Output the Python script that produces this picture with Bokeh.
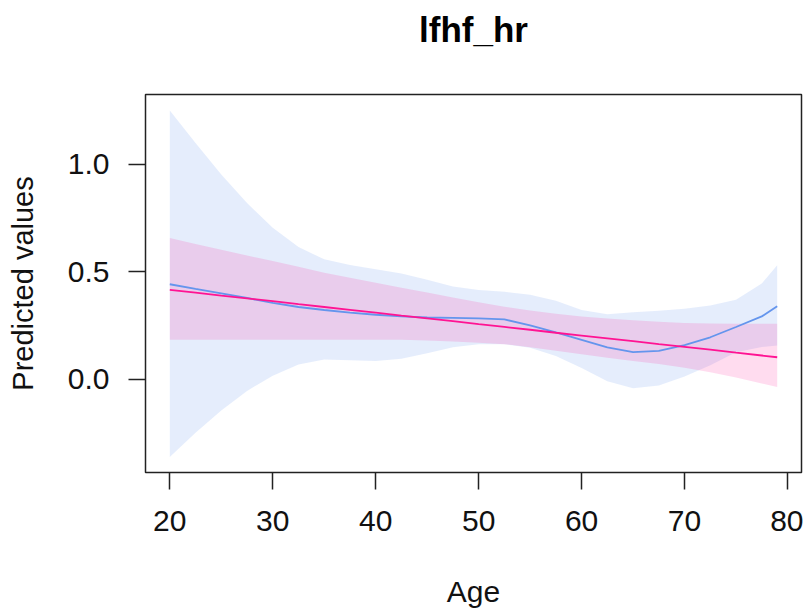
from bokeh.plotting import figure
from bokeh.models import Range1d, FixedTicker, NumeralTickFormatter, LinearAxis
from bokeh.embed import file_html
from bokeh.resources import INLINE

# ---- data ----
age = [20, 22.5, 25, 27.5, 30, 32.5, 35, 37.5, 40, 42.5, 45, 47.5, 50,
       52.5, 55, 57.5, 60, 62.5, 65, 67.5, 70, 72.5, 75, 77.5, 79]

smooth_fit = [0.442, 0.420, 0.400, 0.378, 0.355, 0.336, 0.322, 0.310, 0.300,
              0.292, 0.287, 0.285, 0.283, 0.278, 0.250, 0.218, 0.183, 0.148,
              0.126, 0.132, 0.158, 0.195, 0.243, 0.292, 0.340]
smooth_upper = [1.251, 1.100, 0.953, 0.820, 0.705, 0.615, 0.558, 0.532, 0.512,
                0.492, 0.463, 0.432, 0.415, 0.407, 0.393, 0.365, 0.322, 0.302,
                0.312, 0.318, 0.328, 0.343, 0.370, 0.445, 0.530]
smooth_lower = [-0.363, -0.250, -0.146, -0.055, 0.016, 0.068, 0.092, 0.088, 0.085,
                0.095, 0.120, 0.148, 0.162, 0.163, 0.146, 0.108, 0.052, -0.010,
                -0.043, -0.030, 0.012, 0.065, 0.125, 0.150, 0.157]

linear_fit = [0.416, 0.403, 0.389, 0.376, 0.363, 0.349, 0.336, 0.323, 0.310,
              0.296, 0.283, 0.270, 0.256, 0.243, 0.230, 0.216, 0.203, 0.190,
              0.177, 0.163, 0.150, 0.137, 0.123, 0.110, 0.102]
linear_upper = [0.657, 0.630, 0.603, 0.576, 0.550, 0.523, 0.496, 0.472, 0.449,
                0.426, 0.403, 0.380, 0.358, 0.337, 0.320, 0.305, 0.292, 0.282,
                0.274, 0.267, 0.262, 0.259, 0.258, 0.258, 0.258]
linear_lower = [0.183, 0.183, 0.183, 0.183, 0.183, 0.183, 0.183, 0.183, 0.183,
                0.183, 0.180, 0.175, 0.170, 0.163, 0.148, 0.132, 0.116, 0.100,
                0.085, 0.070, 0.053, 0.032, 0.008, -0.020, -0.037]

x_ticks = [20, 30, 40, 50, 60, 70, 80]
y_ticks = [0.0, 0.5, 1.0]

title_text = "lfhf_hr"
x_label = "Age"
y_label = "Predicted values"

FONT = "Liberation Sans"
INK = "#111111"

p = figure(width=803, height=611, output_backend="svg", toolbar_location=None,
           x_range=Range1d(17.64, 81.36), y_range=Range1d(-0.435, 1.326),
           min_border_left=145, min_border_right=2, min_border_top=94,
           min_border_bottom=139)

p.varea(x=age, y1=smooth_lower, y2=smooth_upper, fill_color="#6495ED", fill_alpha=0.17)
p.varea(x=age, y1=linear_lower, y2=linear_upper, fill_color="#FF1493", fill_alpha=0.15)
p.line(age, smooth_fit, line_color="#6495ED", line_width=1.8)
p.line(age, linear_fit, line_color="#FF1493", line_width=1.8)

p.grid.visible = False
p.background_fill_color = "white"
p.border_fill_color = "white"
p.outline_line_color = "#222222"
p.outline_line_width = 1.5

xax = p.below[0]
yax = p.left[0]

for ax in (xax, yax):
    ax.axis_line_color = None
    ax.major_tick_line_color = "#222222"
    ax.major_tick_line_width = 1.5
    ax.major_tick_out = 17
    ax.major_tick_in = 0
    ax.minor_tick_line_color = None
    ax.major_label_text_font = FONT
    ax.major_label_text_font_size = "30px"
    ax.major_label_text_color = INK
    ax.axis_label_text_font = FONT
    ax.axis_label_text_font_style = "normal"
    ax.axis_label_text_color = INK

xax.axis_label_text_font_size = "30px"
yax.axis_label_text_font_size = "29px"
xax.ticker = FixedTicker(ticks=x_ticks)
yax.ticker = FixedTicker(ticks=y_ticks)
xax.formatter = NumeralTickFormatter(format="0")
yax.formatter = NumeralTickFormatter(format="0.0")
xax.axis_label = x_label
yax.axis_label = y_label
xax.major_label_standoff = 21
yax.major_label_standoff = 19
xax.axis_label_standoff = 41
yax.axis_label_standoff = 26

# Title drawn as the label of a tick-less axis above the frame
title_axis = LinearAxis(ticker=FixedTicker(ticks=[]), axis_label=title_text)
title_axis.axis_line_color = None
title_axis.major_tick_line_color = None
title_axis.minor_tick_line_color = None
title_axis.major_tick_out = 0
title_axis.major_tick_in = 0
title_axis.major_label_standoff = 0
title_axis.major_label_text_font_size = "0px"
title_axis.axis_label_standoff = 46
title_axis.axis_label_text_font = FONT
title_axis.axis_label_text_font_size = "35px"
title_axis.axis_label_text_font_style = "bold"
title_axis.axis_label_text_color = "black"
p.add_layout(title_axis, "above")

open("out.html", "w").write(file_html(p, INLINE))
